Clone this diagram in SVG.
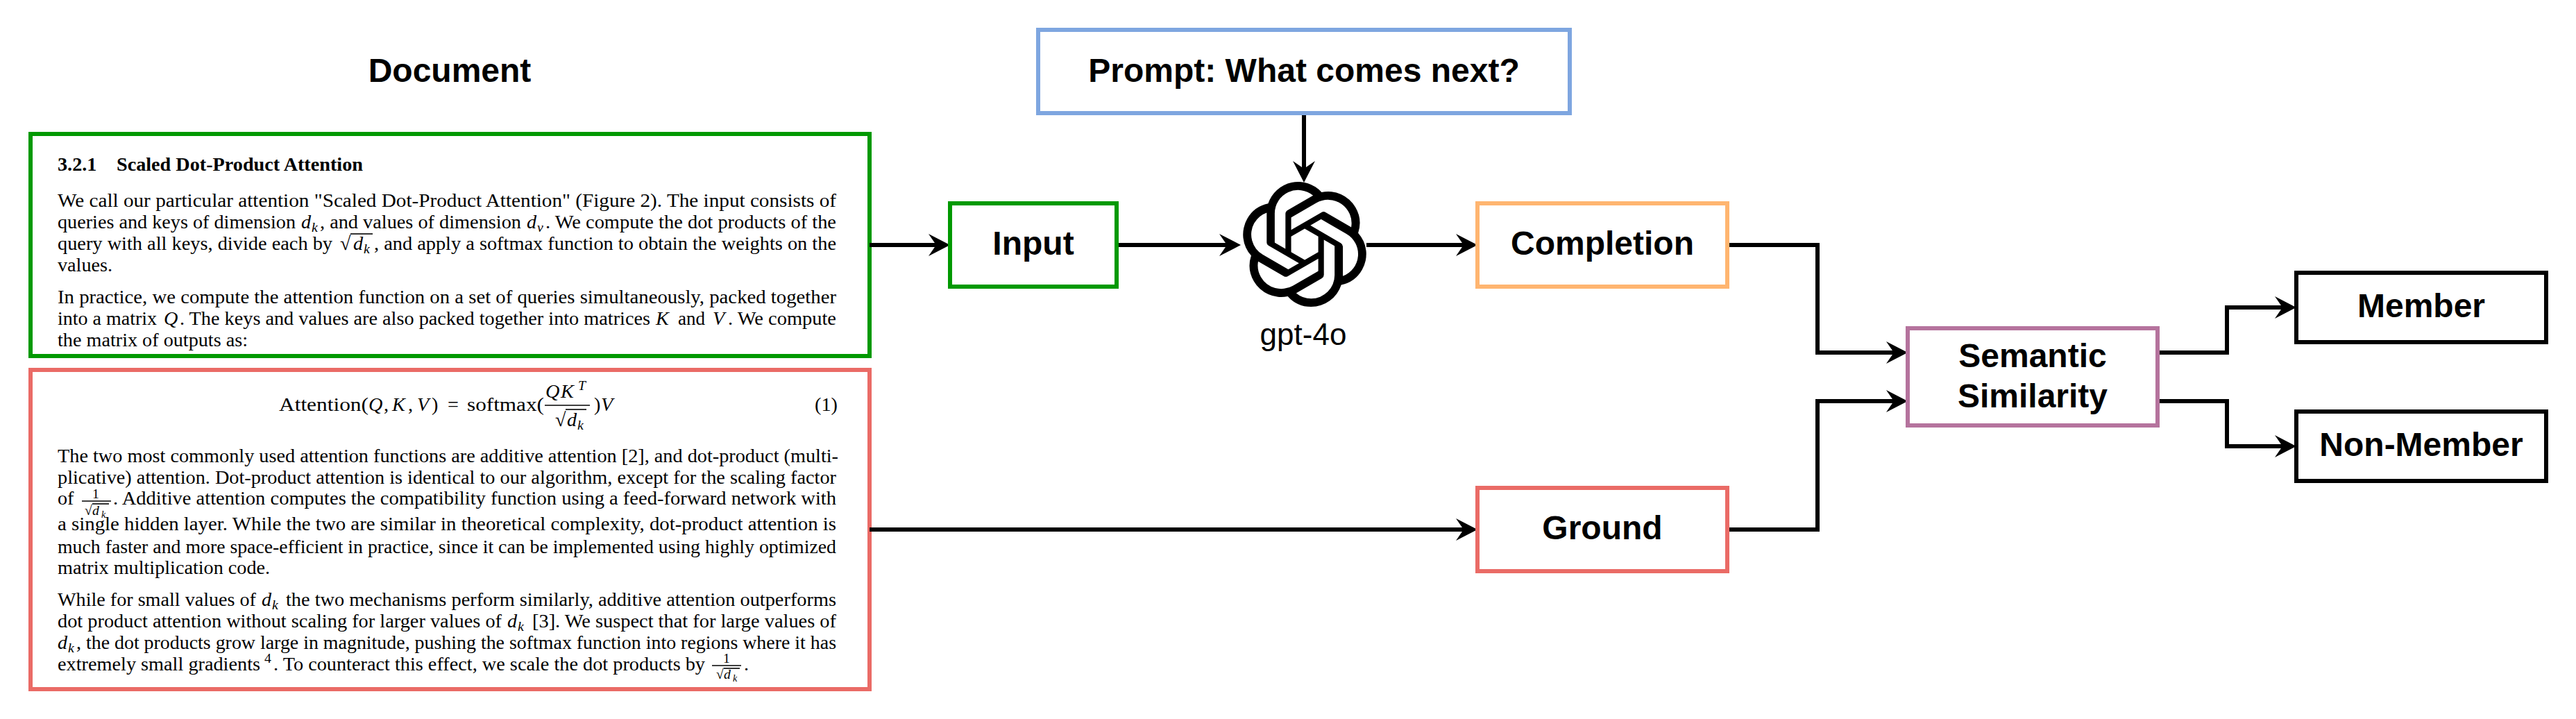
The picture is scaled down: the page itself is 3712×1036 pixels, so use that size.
<svg xmlns="http://www.w3.org/2000/svg" width="3712" height="1036" viewBox="0 0 3712 1036">
<style>
.box{fill:#fff;stroke-width:6}
.lbl{font:bold 48px "Liberation Sans",Arial,sans-serif;fill:#000;text-anchor:middle}
.t{font:28.2px "Liberation Serif","Times New Roman",serif;fill:#000}
.b{font-weight:bold}
.i{font:italic 28.2px "Liberation Serif","Times New Roman",serif;fill:#000}
.s{font:italic 19.7px "Liberation Serif","Times New Roman",serif;fill:#000}
.n{font:19.7px "Liberation Serif","Times New Roman",serif;fill:#000}
.c{fill:none;stroke:#000;stroke-width:6}
.r{stroke:#000;stroke-width:1.6;fill:none}
</style>
<defs>
<marker id="arrow" markerUnits="userSpaceOnUse" viewBox="0 0 31 32" markerWidth="31" markerHeight="32" refX="23" refY="16" orient="auto">
<path d="M0,0 L31,16 L0,32 L11,16Z" fill="#000"/>
</marker>
</defs>
<g id="document-title"><text class="lbl" x="648" y="118">Document</text></g>
<g id="doc-green">
<rect class="box" x="44" y="193" width="1209" height="320" stroke="#009900"/>
<text class="t b" x="83" y="246">3.2.1</text>
<text class="t b" x="168" y="246">Scaled Dot-Product Attention</text>
<text class="t" x="83" y="298" lengthAdjust="spacingAndGlyphs" textLength="1122">We call our particular attention "Scaled Dot-Product Attention" (Figure 2). The input consists of</text>
<text class="t" x="83" y="329" lengthAdjust="spacingAndGlyphs" textLength="343">queries and keys of dimension</text>
<text class="i" x="434" y="329">d</text><text class="s" x="449" y="334">k</text>
<text class="t" x="461" y="329" lengthAdjust="spacingAndGlyphs" textLength="290">, and values of dimension</text>
<text class="i" x="759" y="329">d</text><text class="s" x="774" y="334">v</text>
<text class="t" x="786" y="329" lengthAdjust="spacingAndGlyphs" textLength="419">. We compute the dot products of the</text>
<text class="t" x="83" y="360" lengthAdjust="spacingAndGlyphs" textLength="396">query with all keys, divide each by</text>
<text class="t" x="490" y="360">√</text><line class="r" x1="505" y1="337" x2="537" y2="337"/>
<text class="i" x="509" y="360">d</text><text class="s" x="524" y="365">k</text>
<text class="t" x="539" y="360" lengthAdjust="spacingAndGlyphs" textLength="666">, and apply a softmax function to obtain the weights on the</text>
<text class="t" x="83" y="391">values.</text>
<text class="t" x="83" y="437" lengthAdjust="spacingAndGlyphs" textLength="1122">In practice, we compute the attention function on a set of queries simultaneously, packed together</text>
<text class="t" x="83" y="468" lengthAdjust="spacingAndGlyphs" textLength="143">into a matrix</text>
<text class="i" x="236" y="468">Q</text>
<text class="t" x="259" y="468" lengthAdjust="spacingAndGlyphs" textLength="678">. The keys and values are also packed together into matrices</text>
<text class="i" x="945" y="468">K</text>
<text class="t" x="977" y="468" lengthAdjust="spacingAndGlyphs" textLength="39">and</text>
<text class="i" x="1027" y="468">V</text>
<text class="t" x="1049" y="468" lengthAdjust="spacingAndGlyphs" textLength="156">. We compute</text>
<text class="t" x="83" y="499">the matrix of outputs as:</text>
</g>
<g id="doc-red">
<rect class="box" x="44" y="533" width="1209" height="460" stroke="#EA6B66"/>
<text class="t" x="402" y="592" lengthAdjust="spacingAndGlyphs" textLength="129">Attention(</text>
<text class="i" x="531" y="592">Q</text><text class="t" x="553" y="592">,</text>
<text class="i" x="565" y="592">K</text><text class="t" x="588" y="592">,</text>
<text class="i" x="601" y="592">V</text><text class="t" x="622" y="592">)</text>
<text class="t" x="645" y="592">=</text>
<text class="t" x="673" y="592" lengthAdjust="spacingAndGlyphs" textLength="111">softmax(</text>
<text class="i" x="786" y="573">Q</text><text class="i" x="808" y="573">K</text><text class="s" x="833" y="562">T</text>
<line class="r" x1="785" y1="584" x2="850" y2="584"/>
<text class="t" x="800" y="614">√</text><line class="r" x1="815" y1="590" x2="845" y2="590"/>
<text class="i" x="817" y="614">d</text><text class="s" x="832" y="619">k</text>
<text class="t" x="856" y="592">)</text><text class="i" x="866" y="592">V</text>
<text class="t" x="1174" y="592">(1)</text>
<text class="t" x="83" y="666" lengthAdjust="spacingAndGlyphs" textLength="1125">The two most commonly used attention functions are additive attention [2], and dot-product (multi-</text>
<text class="t" x="83" y="697" lengthAdjust="spacingAndGlyphs" textLength="1122">plicative) attention. Dot-product attention is identical to our algorithm, except for the scaling factor</text>
<text class="t" x="83" y="727">of</text>
<text class="n" x="133" y="718">1</text>
<line class="r" x1="118" y1="722" x2="160" y2="722"/>
<text class="n" x="122" y="742">√</text><line class="r" x1="133" y1="726" x2="157" y2="726"/>
<text class="s" x="133" y="742">d</text><text class="s" x="146" y="746" style="font-size:14px">k</text>
<text class="t" x="163" y="727" lengthAdjust="spacingAndGlyphs" textLength="1042">. Additive attention computes the compatibility function using a feed-forward network with</text>
<text class="t" x="83" y="764" lengthAdjust="spacingAndGlyphs" textLength="1122">a single hidden layer. While the two are similar in theoretical complexity, dot-product attention is</text>
<text class="t" x="83" y="797" lengthAdjust="spacingAndGlyphs" textLength="1122">much faster and more space-efficient in practice, since it can be implemented using highly optimized</text>
<text class="t" x="83" y="827">matrix multiplication code.</text>
<text class="t" x="83" y="873" lengthAdjust="spacingAndGlyphs" textLength="286">While for small values of</text>
<text class="i" x="377" y="873">d</text><text class="s" x="392" y="878">k</text>
<text class="t" x="412" y="873" lengthAdjust="spacingAndGlyphs" textLength="793">the two mechanisms perform similarly, additive attention outperforms</text>
<text class="t" x="83" y="904" lengthAdjust="spacingAndGlyphs" textLength="640">dot product attention without scaling for larger values of</text>
<text class="i" x="731" y="904">d</text><text class="s" x="746" y="909">k</text>
<text class="t" x="767" y="904" lengthAdjust="spacingAndGlyphs" textLength="438">[3]. We suspect that for large values of</text>
<text class="i" x="83" y="935">d</text><text class="s" x="98" y="940">k</text>
<text class="t" x="110" y="935" lengthAdjust="spacingAndGlyphs" textLength="1095">, the dot products grow large in magnitude, pushing the softmax function into regions where it has</text>
<text class="t" x="83" y="966" lengthAdjust="spacingAndGlyphs" textLength="292">extremely small gradients</text>
<text class="n" x="381" y="955">4</text>
<text class="t" x="394" y="966" lengthAdjust="spacingAndGlyphs" textLength="622">. To counteract this effect, we scale the dot products by</text>
<text class="n" x="1042" y="955">1</text>
<line class="r" x1="1026" y1="959" x2="1068" y2="959"/>
<text class="n" x="1032" y="978">√</text><line class="r" x1="1043" y1="963" x2="1066" y2="963"/>
<text class="s" x="1043" y="978">d</text><text class="s" x="1056" y="982" style="font-size:14px">k</text>
<text class="t" x="1072" y="966">.</text>
</g>
<g id="connectors">
<path class="c" marker-end="url(#arrow)" d="M1253,353H1361"/>
<path class="c" marker-end="url(#arrow)" d="M1609,353H1780"/>
<path class="c" marker-end="url(#arrow)" d="M1879,163V255"/>
<path class="c" marker-end="url(#arrow)" d="M1969,353H2121"/>
<path class="c" marker-end="url(#arrow)" d="M2489,353H2619V508H2741"/>
<path class="c" marker-end="url(#arrow)" d="M1253,763H2121"/>
<path class="c" marker-end="url(#arrow)" d="M2489,763H2619V578H2741"/>
<path class="c" marker-end="url(#arrow)" d="M3109,508H3209V443H3301"/>
<path class="c" marker-end="url(#arrow)" d="M3109,578H3209V643H3301"/>
</g>
<g id="prompt"><rect class="box" x="1496" y="43" width="766" height="120" stroke="#7EA6E0"/><text class="lbl" x="1879" y="118">Prompt: What comes next?</text></g>
<g id="input"><rect class="box" x="1369" y="293" width="240" height="120" stroke="#009900"/><text class="lbl" x="1489" y="367">Input</text></g>
<g id="gpt">
<path transform="translate(1790,262) scale(7.5)" fill="#000" d="M22.2819 9.8211a5.9847 5.9847 0 0 0-.5157-4.9108 6.0462 6.0462 0 0 0-6.5098-2.9A6.0651 6.0651 0 0 0 4.9807 4.1818a5.9847 5.9847 0 0 0-3.9977 2.9 6.0462 6.0462 0 0 0 .7427 7.0966 5.98 5.98 0 0 0 .511 4.9107 6.051 6.051 0 0 0 6.5146 2.9001A5.9847 5.9847 0 0 0 13.2599 24a6.0557 6.0557 0 0 0 5.7718-4.2058 5.9894 5.9894 0 0 0 3.9977-2.9001 6.0557 6.0557 0 0 0-.7475-7.0729zm-9.022 12.6081a4.4755 4.4755 0 0 1-2.8764-1.0408l.1419-.0804 4.7783-2.7582a.7948.7948 0 0 0 .3927-.6813v-6.7369l2.02 1.1686a.071.071 0 0 1 .038.052v5.5826a4.504 4.504 0 0 1-4.4945 4.4944zm-9.6607-4.1254a4.4708 4.4708 0 0 1-.5346-3.0137l.142.0852 4.783 2.7582a.7712.7712 0 0 0 .7806 0l5.8428-3.3685v2.3324a.0804.0804 0 0 1-.0332.0615L9.74 19.9502a4.4992 4.4992 0 0 1-6.1408-1.6464zM2.3408 7.8956a4.485 4.485 0 0 1 2.3655-1.9728V11.6a.7664.7664 0 0 0 .3879.6765l5.8144 3.3543-2.0201 1.1685a.0757.0757 0 0 1-.071 0l-4.8303-2.7865A4.504 4.504 0 0 1 2.3408 7.872zm16.5963 3.8558L13.1038 8.364 15.1192 7.2a.0757.0757 0 0 1 .071 0l4.8303 2.7913a4.4944 4.4944 0 0 1-.6765 8.1042v-5.6772a.79.79 0 0 0-.407-.667zm2.0107-3.0231l-.142-.0852-4.7735-2.7818a.7759.7759 0 0 0-.7854 0L9.409 9.2297V6.8974a.0662.0662 0 0 1 .0284-.0615l4.8303-2.7866a4.4992 4.4992 0 0 1 6.6802 4.66zM8.3065 12.863l-2.02-1.1638a.0804.0804 0 0 1-.038-.0567V6.0742a4.4992 4.4992 0 0 1 7.3757-3.4537l-.142.0805L8.704 5.459a.7948.7948 0 0 0-.3927.6813zm1.0976-2.3654l2.602-1.4998 2.6069 1.4998v2.9994l-2.5974 1.4997-2.6067-1.4997Z"/>
<text x="1878" y="497" text-anchor="middle" font-family="Liberation Sans, Arial, sans-serif" font-size="44">gpt-4o</text>
</g>
<g id="completion"><rect class="box" x="2129" y="293" width="360" height="120" stroke="#FFB570"/><text class="lbl" x="2309" y="367">Completion</text></g>
<g id="ground"><rect class="box" x="2129" y="703" width="360" height="120" stroke="#EA6B66"/><text class="lbl" x="2309" y="777">Ground</text></g>
<g id="semantic"><rect class="box" x="2749" y="473" width="360" height="140" stroke="#B5739D"/><text class="lbl" x="2929" y="529">Semantic</text><text class="lbl" x="2929" y="587">Similarity</text></g>
<g id="member"><rect class="box" x="3309" y="393" width="360" height="100" stroke="#000"/><text class="lbl" x="3489" y="457">Member</text></g>
<g id="non-member"><rect class="box" x="3309" y="593" width="360" height="100" stroke="#000"/><text class="lbl" x="3489" y="657">Non-Member</text></g>
</svg>
